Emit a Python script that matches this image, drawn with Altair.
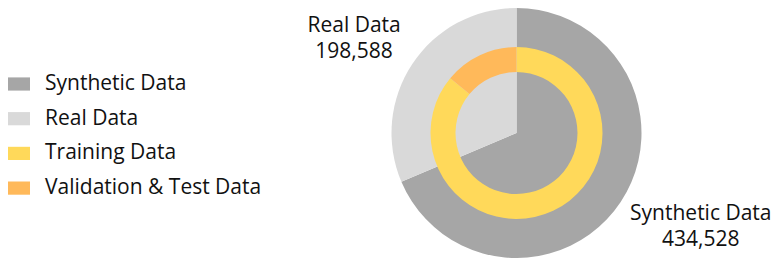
import altair as alt
import pandas as pd

outer_cats = ["Synthetic Data", "Real Data"]
outer_vals = [434528, 198588]
inner_cats = ["Training Data", "Validation & Test Data"]
inner_vals = [86, 14]
colors = ["#A6A6A6", "#D9D9D9", "#FFD95A", "#FFB95A"]

outer = pd.DataFrame({"cat": outer_cats, "val": outer_vals, "ord": [0, 1]})
inner = pd.DataFrame({"cat": inner_cats, "val": inner_vals, "ord": [0, 1]})

CX, CY = 508.5, 125
FONT = "Open Sans"

color = alt.Color(
    "cat:N",
    scale=alt.Scale(domain=outer_cats + inner_cats, range=colors),
    legend=alt.Legend(
        title=None,
        orient="none",
        legendX=0,
        legendY=65,
        symbolType="M-1,-0.6L1,-0.6L1,0.6L-1,0.6Z",
        symbolSize=484,
        symbolStrokeWidth=0,
        labelFont=FONT,
        labelFontSize=21,
        labelColor="#111111",
        labelOffset=15,
        labelLimit=0,
        rowPadding=13.7,
        padding=0,
    ),
)

pie = alt.Chart(outer).mark_arc(outerRadius=125).encode(
    theta=alt.Theta("val:Q", stack=True),
    color=color,
    order=alt.Order("ord:Q"),
    x=alt.value(CX),
    y=alt.value(CY),
)

ring = alt.Chart(inner).mark_arc(innerRadius=61, outerRadius=86).encode(
    theta=alt.Theta("val:Q", stack=True),
    color=color,
    order=alt.Order("ord:Q"),
    x=alt.value(CX),
    y=alt.value(CY),
)

base_text = (
    alt.Chart(outer)
    .transform_joinaggregate(total="sum(val)")
    .transform_window(cum="sum(val)", sort=[alt.SortField("ord")], frame=[None, 0])
    .transform_calculate(
        ang="2*PI*(datum.cum - datum.val/2)/datum.total",
        label="[datum.cat, format(datum.val, ',')]",
    )
)

def label_layer(cat, r, dtheta):
    return (
        base_text.transform_filter(alt.datum.cat == cat)
        .transform_calculate(a2=f"datum.ang + {dtheta}")
        .mark_text(font=FONT, fontSize=21, color="#111111", align="center", baseline="middle", lineHeight=26)
        .encode(
            theta=alt.Theta("a2:Q", scale=None),
            radius=alt.value(r),
            text=alt.Text("label:N"),
            x=alt.value(CX),
            y=alt.value(CY),
        )
    )

syn_label = label_layer("Synthetic Data", 201.5, -0.169)
real_label = label_layer("Real Data", 194.6, -0.002)

chart = (
    alt.layer(pie, ring, syn_label, real_label)
    .resolve_scale(theta="independent")
    .properties(width=766, height=250, padding=0, autosize=alt.AutoSizeParams(type="none"))
    .configure_view(stroke=None)
)

chart.save("out.html", embed_options={"renderer": "svg", "actions": False})
